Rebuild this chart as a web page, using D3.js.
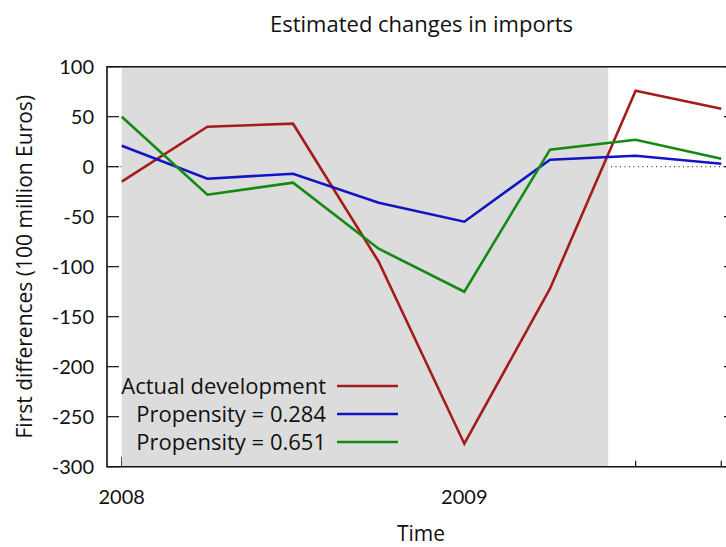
<!DOCTYPE html>
<html>
<head>
<meta charset="utf-8">
<script src="https://cdn.jsdelivr.net/npm/d3@7"></script>
<style>
  body { margin: 0; background: #fff; }
  text { font-family: "Open Sans", Lato, sans-serif; fill: #111; }
  text.num { font-family: Lato, "Noto Sans", sans-serif; }
</style>
</head>
<body>
<div id="chart"></div>
<script>
// quarterly time points (fractional years)
var quarters = [2008, 2008.25, 2008.5, 2008.75, 2009, 2009.25, 2009.5, 2009.75];
var actual = [-15, 40, 43, -95, -277, -122, 76, 58];
var prop284 = [21, -12, -7, -36, -55, 7, 11, 3];
var prop651 = [50, -28, -16, -82, -125, 17, 27, 8];
var yearTicks = [2008, 2009];
var yTicks = [100, 50, 0, -50, -100, -150, -200, -250, -300];
var shadeRange = [2008, 2009.42];

var series = [
  { name: "Actual development", values: actual, color: "#a51c1c" },
  { name: "Propensity = 0.284", values: prop284, color: "#1414c4" },
  { name: "Propensity = 0.651", values: prop651, color: "#138a13" }
];

function drawChart() {
  var w = 726, h = 547;
  var left = 107, right = 736, top = 66.7, bottom = 466.7;

  var svg = d3.select("#chart").append("svg")
    .attr("width", w).attr("height", h)
    .style("display", "block");

  var x = d3.scaleLinear().domain([2007.957, 2009.793]).range([left, right]);
  var y = d3.scaleLinear().domain([-300, 100]).range([bottom, top]);

  // ticks (drawn first, shading covers the inner ones)
  var g = svg.append("g");
  g.selectAll(".ytick").data(yTicks).enter().append("line")
    .attr("x1", left).attr("x2", left + 12)
    .attr("y1", d => y(d)).attr("y2", d => y(d))
    .attr("stroke", "#111").attr("stroke-width", 1.2);
  g.selectAll(".ytick2").data(yTicks).enter().append("line")
    .attr("x1", right - 12).attr("x2", right)
    .attr("y1", d => y(d)).attr("y2", d => y(d))
    .attr("stroke", "#111").attr("stroke-width", 1.2);
  g.selectAll(".xmajor").data(yearTicks).enter().append("line")
    .attr("x1", d => x(d)).attr("x2", d => x(d))
    .attr("y1", bottom).attr("y2", bottom - 10)
    .attr("stroke", "#111").attr("stroke-width", 1.2);
  g.selectAll(".xminor").data(quarters).enter().append("line")
    .attr("x1", d => x(d)).attr("x2", d => x(d))
    .attr("y1", bottom).attr("y2", bottom - 6)
    .attr("stroke", "#111").attr("stroke-width", 1.2);

  // zero line
  svg.append("line")
    .attr("x1", left).attr("x2", right)
    .attr("y1", y(0)).attr("y2", y(0))
    .attr("stroke", "#111").attr("stroke-width", 1)
    .attr("stroke-dasharray", "1,3.5");

  // shaded recession period
  svg.append("rect")
    .attr("x", x(shadeRange[0])).attr("y", top)
    .attr("width", x(shadeRange[1]) - x(shadeRange[0]))
    .attr("height", bottom - top)
    .attr("fill", "#dcdcdc");

  // border
  svg.append("path")
    .attr("d", "M" + right + "," + top + "H" + left + "V" + bottom + "H" + right)
    .attr("fill", "none").attr("stroke", "#111").attr("stroke-width", 1.6);

  // lines
  var line = d3.line().x((d, i) => x(quarters[i])).y(d => y(d));
  svg.append("g").selectAll("path").data(series).enter().append("path")
    .attr("d", d => line(d.values))
    .attr("fill", "none")
    .attr("stroke", d => d.color)
    .attr("stroke-width", 2.6)
    .attr("stroke-linejoin", "miter");

  // tick labels
  svg.append("g").selectAll("text").data(yTicks).enter().append("text")
    .attr("class", "num")
    .attr("x", 94).attr("y", d => y(d) + 7)
    .attr("text-anchor", "end")
    .style("font-size", "20px")
    .text(d => d);
  svg.append("g").selectAll("text").data(yearTicks).enter().append("text")
    .attr("class", "num")
    .attr("x", d => x(d)).attr("y", 504)
    .attr("text-anchor", "middle")
    .style("font-size", "20px")
    .text(d => d);

  // legend
  var leg = svg.append("g").selectAll("g").data(series).enter().append("g")
    .attr("transform", (d, i) => "translate(0," + (386 + i * 28) + ")");
  leg.append("text")
    .attr("x", 326).attr("y", 7.5)
    .attr("text-anchor", "end")
    .style("font-size", "22px")
    .text(d => d.name);
  leg.append("line")
    .attr("x1", 337).attr("x2", 398)
    .attr("stroke", d => d.color).attr("stroke-width", 2.6);

  // titles
  svg.append("text")
    .attr("x", 421.5).attr("y", 32)
    .attr("text-anchor", "middle")
    .style("font-size", "22px")
    .text("Estimated changes in imports");
  svg.append("text")
    .attr("x", 421).attr("y", 541)
    .attr("text-anchor", "middle")
    .style("font-size", "21px")
    .text("Time");
  svg.append("text")
    .attr("transform", "translate(32," + ((top + bottom) / 2) + ") rotate(-90)")
    .attr("text-anchor", "middle")
    .style("font-size", "21px")
    .text("First differences (100 million Euros)");
}

drawChart();
</script>
</body>
</html>
